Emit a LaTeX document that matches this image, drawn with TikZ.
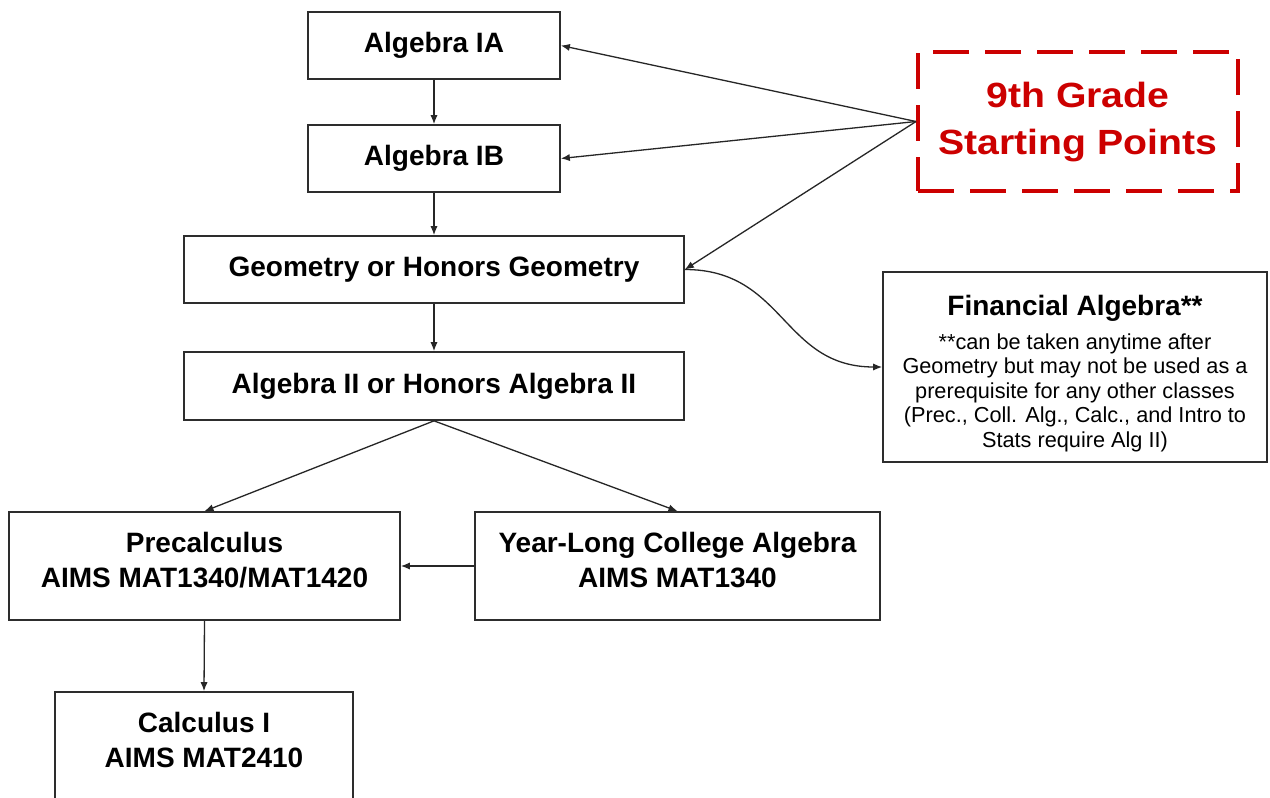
\documentclass[tikz,border=0pt]{standalone}
\usepackage{fontspec}
\setmainfont{Liberation Sans}
\usepackage{graphicx}
\usetikzlibrary{arrows.meta}
\definecolor{boxline}{RGB}{45,45,45}
\definecolor{gred}{RGB}{204,0,0}
\newcommand{\bdp}{\rule[-5.7pt]{0pt}{5.7pt}}
\begin{document}
\begin{tikzpicture}[x=0.5pt,y=-0.5pt,
  box/.style={draw=boxline, line width=0.85pt, rectangle, inner sep=0pt, align=center,
    font=\fontsize{14}{17.5}\selectfont\bfseries},
  arr/.style={draw=black!85, line width=0.65pt, -{Latex[length=4.5pt,width=3.6pt]}},
  startbox/.style={draw=gred, line width=2pt, dash pattern=on 18pt off 8pt, rectangle,
    inner sep=0pt, text=gred, font=\fontsize{17.5}{23.5}\selectfont\bfseries},
  notebox/.style={draw=boxline, line width=0.85pt, rectangle, inner sep=0pt, align=center,
    font=\fontsize{10.85}{12.3}\selectfont}
]
\useasboundingbox (0,0) rectangle (1270,798);
\fill[white] (0,0) rectangle (1270,798);

\node[box, minimum width=126pt, minimum height=33.5pt] (a1) at (434,45.5) {Algebra IA};
\node[box, minimum width=126pt, minimum height=33.5pt] (a1b) at (434,158.5) {Algebra IB};
\node[box, minimum width=250pt, minimum height=33.5pt] (geo) at (434,269.5) {Geometry or Honors Geometry};
\node[box, minimum width=250pt, minimum height=34pt] (alg2) at (434,386) {Algebra II or Honors Algebra II};
\node[box, minimum width=195.5pt, minimum height=54pt] (pre) at (204.5,566) {Precalculus\\AIMS MAT1340/MAT1420\bdp};
\node[box, minimum width=202.5pt, minimum height=54pt] (yl) at (677.5,566) {Year-Long College Algebra\\AIMS MAT1340\bdp};
\node[box, minimum width=149pt, minimum height=54pt] (calc) at (204,746) {Calculus I\\AIMS MAT2410\bdp};

\node[startbox, minimum width=160pt, minimum height=69.5pt] (start) at (1078,121.5)
  {\scalebox{1.12}[1]{\begin{tabular}{@{}c@{}}9th Grade\\Starting Points\end{tabular}}};

\node[notebox, minimum width=192pt, minimum height=95pt] (fin) at (1075,367)
  {{\fontsize{14}{16}\selectfont\bfseries\rule{0pt}{16.5pt}Financial Algebra**}\\[4.7pt]
   **can be taken anytime after\\
   Geometry but may not be used as a\\
   prerequisite for any other classes\\
   (Prec., Coll. Alg., Calc., and Intro to\\
   Stats require Alg II)};

\draw[arr] (start.west) -- (a1.east);
\draw[arr] (start.west) -- (a1b.east);
\draw[arr] (start.west) -- (geo.east);
\draw[arr] (geo.east) .. controls +(100,0) and +(-100,0) .. (fin.west);
\draw[arr] (a1) -- (a1b);
\draw[arr] (a1b) -- (geo);
\draw[arr] (geo) -- (alg2);
\draw[arr] (alg2.south) -- (pre.north);
\draw[arr] (alg2.south) -- (yl.north);
\draw[arr] (yl.west) -- (pre.east);
\draw[arr] (pre.south) -- (calc.north);
\end{tikzpicture}
\end{document}
